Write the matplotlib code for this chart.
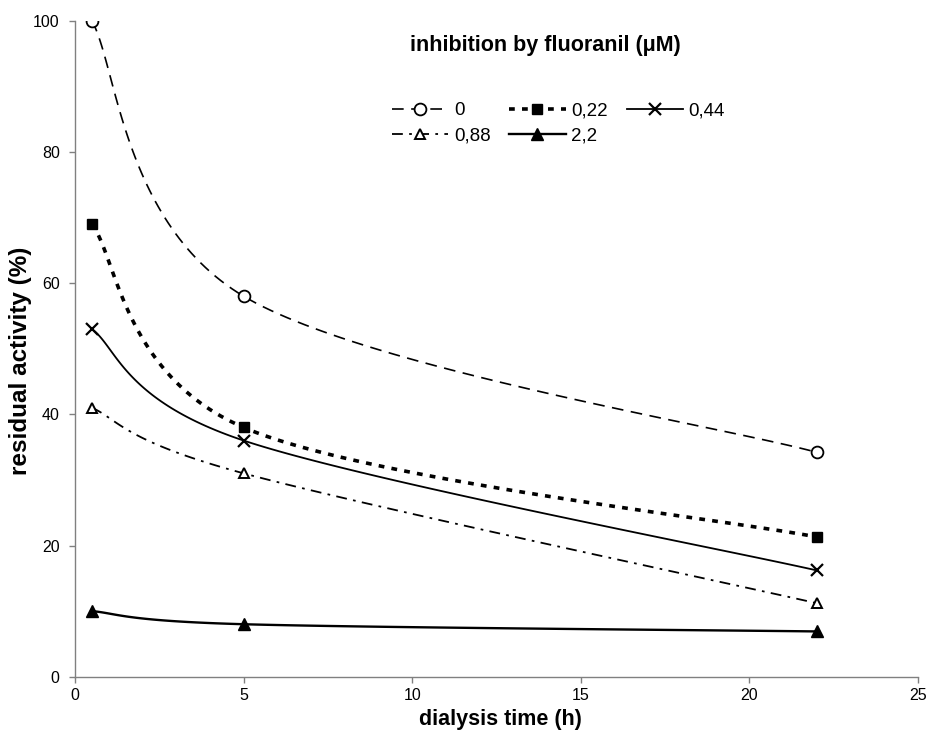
import numpy as np
import matplotlib
matplotlib.use("Agg")
import matplotlib.pyplot as plt

plt.rcParams['font.family'] = ['Liberation Sans', 'DejaVu Sans']

# dialysis time (h) and residual activity (%) per fluoranil concentration
times = [0.5, 5, 22]
conc_labels = ["0", "0,22", "0,44", "0,88", "2,2"]
act_0 = [100, 58, 34.2]
act_022 = [69, 38, 21.3]
act_044 = [53, 36, 16.2]
act_088 = [41, 31, 11.2]
act_22 = [10, 8, 6.9]


def smooth(ax, x, y, n=60):
    # Excel-like smoothed line: cubic bezier (catmull-rom tangents) in pixel space
    pts = ax.transData.transform(np.column_stack([x, y]))
    ext = np.vstack([pts[0], pts, pts[-1]])
    out = []
    t = np.linspace(0, 1, n)[:, None]
    for i in range(len(pts) - 1):
        p0, p1 = ext[i + 1], ext[i + 2]
        c1 = p0 + (ext[i + 2] - ext[i]) / 6
        c2 = p1 - (ext[i + 3] - ext[i + 1]) / 6
        seg = ((1 - t) ** 3) * p0 + 3 * ((1 - t) ** 2) * t * c1 + 3 * (1 - t) * t ** 2 * c2 + t ** 3 * p1
        out.append(seg)
    out = ax.transData.inverted().transform(np.vstack(out))
    return out[:, 0], out[:, 1]


fig = plt.figure(figsize=(9.32, 7.39), dpi=100)
ax = fig.add_axes([0.0805, 0.0843, 0.9045, 0.8877])
ax.set_xlim(0, 25)
ax.set_ylim(0, 100)

styles = [
    dict(ls=(0, (7, 4.5)), lw=1.2, marker='o', ms=8.5, mfc='white', mew=1.3),
    dict(ls=(0, (1.6, 2.0)), lw=2.6, marker='s', ms=7, mfc='black', mew=1),
    dict(ls='-', lw=1.3, marker='x', ms=8, mfc='black', mew=1.6),
    dict(ls=(0, (6, 3.5, 1.5, 3.5)), lw=1.3, marker='^', ms=7.5, mfc='white', mew=1.4),
    dict(ls='-', lw=1.7, marker='^', ms=8, mfc='black', mew=1),
]
series = [act_0, act_022, act_044, act_088, act_22]

handles = []
for vals, st, lab in zip(series, styles, conc_labels):
    sx, sy = smooth(ax, times, vals)
    ax.plot(sx, sy, color='black', ls=st['ls'], lw=st['lw'], zorder=2)
    ax.plot(times, vals, ls='none', marker=st['marker'], ms=st['ms'],
            mfc=st['mfc'], mec='black', mew=st['mew'], zorder=3)
    h, = ax.plot([], [], color='black', ls=st['ls'], lw=st['lw'], marker=st['marker'],
                 ms=st['ms'], mfc=st['mfc'], mec='black', mew=st['mew'], label=lab)
    handles.append(h)

ax.set_xticks(range(0, 26, 5))
ax.set_yticks(range(0, 101, 20))
for s in ['top', 'right']:
    ax.spines[s].set_visible(False)
for s in ['left', 'bottom']:
    ax.spines[s].set_color('#808080')
    ax.spines[s].set_linewidth(1)
ax.tick_params(direction='out', length=4, width=1, color='#808080', labelsize=11.5)
ax.tick_params(axis='x', pad=4)
ax.tick_params(axis='y', pad=7)

fig.text(500 / 932, 1 - 720 / 739, "dialysis time (h)", fontsize=15.5,
         fontweight='bold', ha='center', va='center')
fig.text(21 / 932, 1 - 361 / 739, "residual activity (%)", fontsize=17.5,
         fontweight='bold', rotation=90, ha='center', va='center')

fig.text(545 / 932, 1 - 45 / 739, "inhibition by fluoranil (\u03bcM)", fontsize=15.5,
         fontweight='bold', ha='center', va='center')

order = [0, 3, 1, 4, 2]
leg = fig.legend([handles[i] for i in order], [conc_labels[i] for i in order],
                 ncol=3, frameon=False, loc='upper left',
                 bbox_to_anchor=(392 / 932, 1 - 102 / 739), fontsize=13.5,
                 handlelength=3.0, handletextpad=0.3, columnspacing=1.0,
                 labelspacing=0.45, numpoints=1, borderpad=0, borderaxespad=0)

fig.savefig("out.png", dpi=100)
